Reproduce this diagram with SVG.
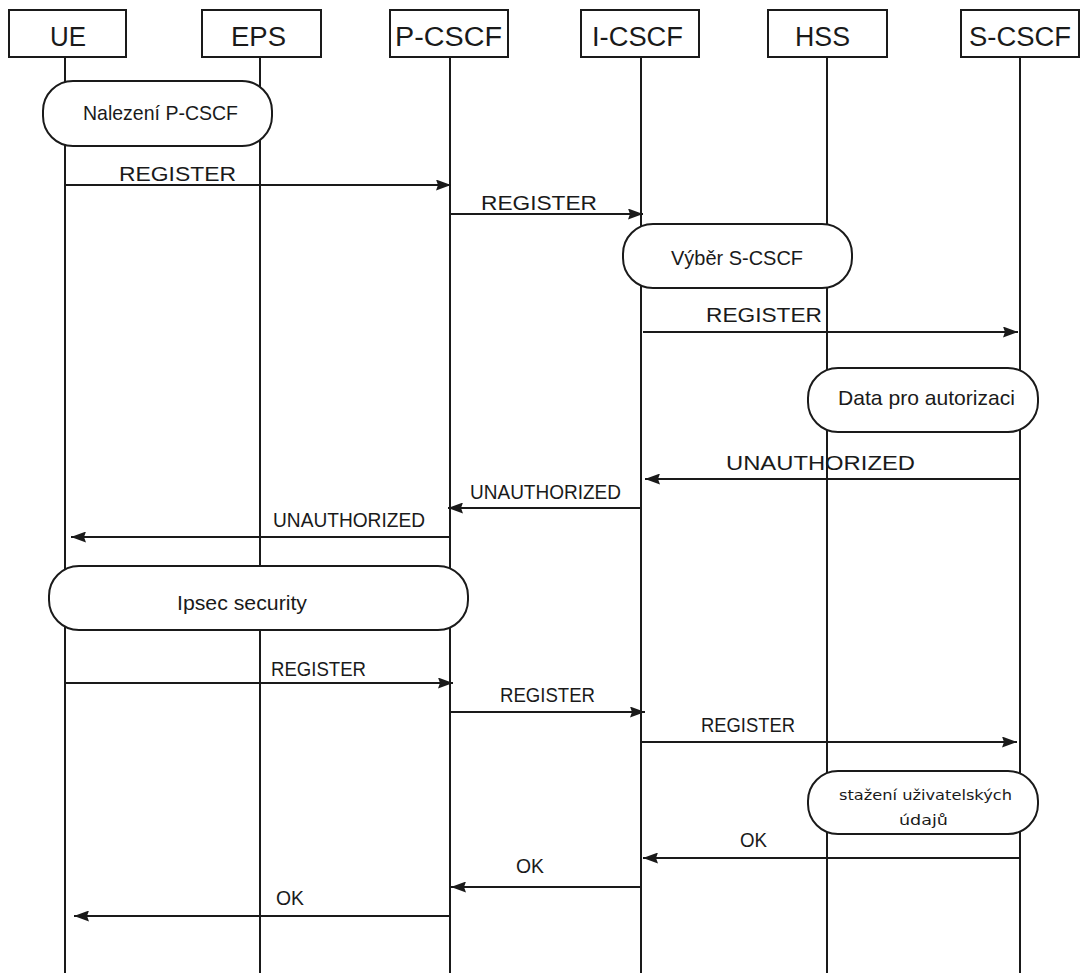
<svg xmlns="http://www.w3.org/2000/svg" width="1081" height="973" viewBox="0 0 1081 973">
  <style>
    .bg { fill: #ffffff; }
    .hdr { fill: #ffffff; stroke: #1a1a1a; stroke-width: 2; }
    .life { stroke: #1a1a1a; stroke-width: 2; fill: none; }
    .act { fill: #ffffff; stroke: #1a1a1a; stroke-width: 2; }
    .msg { stroke: #1a1a1a; stroke-width: 2; fill: none; marker-end: url(#head); }
    text { font-family: "Liberation Sans", Arial, sans-serif; fill: #1a1a1a; }
    .h { font-size: 27px; }
    .l { font-size: 21px; }
    .s { font-family: "DejaVu Sans", Verdana, sans-serif; font-size: 14px; }
  </style>
  <defs>
    <marker id="head" markerWidth="15" markerHeight="11" refX="15" refY="5.5" orient="auto" markerUnits="userSpaceOnUse">
      <path d="M0,0 L15,5.5 L0,11 L2,5.5 z" fill="#1a1a1a"/>
    </marker>
  </defs>

  <rect class="bg" x="0" y="0" width="1081" height="973"/>

  <!-- lifelines: header box, name and vertical line -->
  <g id="ue">
    <line class="life" x1="65" y1="57" x2="65" y2="973"/>
    <rect class="hdr" x="9" y="10" width="117" height="47"/>
    <text class="h" x="50" y="46" textLength="36" lengthAdjust="spacingAndGlyphs">UE</text>
  </g>
  <g id="eps">
    <line class="life" x1="260" y1="57" x2="260" y2="973"/>
    <rect class="hdr" x="202" y="10" width="119" height="47"/>
    <text class="h" x="231" y="46" textLength="55" lengthAdjust="spacingAndGlyphs">EPS</text>
  </g>
  <g id="p-cscf">
    <line class="life" x1="450" y1="57" x2="450" y2="973"/>
    <rect class="hdr" x="390" y="10" width="118" height="47"/>
    <text class="h" x="395" y="46" textLength="107" lengthAdjust="spacingAndGlyphs">P-CSCF</text>
  </g>
  <g id="i-cscf">
    <line class="life" x1="641" y1="57" x2="641" y2="973"/>
    <rect class="hdr" x="581" y="10" width="118" height="47"/>
    <text class="h" x="592" y="46" textLength="91" lengthAdjust="spacingAndGlyphs">I-CSCF</text>
  </g>
  <g id="hss">
    <line class="life" x1="827" y1="57" x2="827" y2="973"/>
    <rect class="hdr" x="768" y="10" width="119" height="47"/>
    <text class="h" x="795" y="46" textLength="55" lengthAdjust="spacingAndGlyphs">HSS</text>
  </g>
  <g id="s-cscf">
    <line class="life" x1="1020" y1="57" x2="1020" y2="973"/>
    <rect class="hdr" x="961" y="10" width="118" height="47"/>
    <text class="h" x="969" y="46" textLength="102" lengthAdjust="spacingAndGlyphs">S-CSCF</text>
  </g>

  <!-- action boxes spanning lifelines -->
  <g id="nalezeni">
    <rect class="act" x="43" y="81" width="229" height="65" rx="30" ry="30"/>
    <text class="l" x="83" y="120" font-size="20" textLength="155" lengthAdjust="spacingAndGlyphs">Nalezení P-CSCF</text>
  </g>
  <g id="vyber">
    <rect class="act" x="623" y="224" width="229" height="64" rx="30" ry="30"/>
    <text class="l" x="671" y="265" textLength="132" lengthAdjust="spacingAndGlyphs">Výběr S-CSCF</text>
  </g>
  <g id="data">
    <rect class="act" x="808" y="368" width="230" height="64" rx="30" ry="30"/>
    <text class="l" x="838" y="405" textLength="177" lengthAdjust="spacingAndGlyphs">Data pro autorizaci</text>
  </g>
  <g id="ipsec">
    <rect class="act" x="49" y="566" width="419" height="64" rx="30" ry="30"/>
    <text class="l" x="177" y="610" textLength="130" lengthAdjust="spacingAndGlyphs">Ipsec security</text>
  </g>
  <g id="stazeni">
    <rect class="act" x="808" y="771" width="230" height="63" rx="30" ry="30"/>
    <text class="s" x="839" y="800" textLength="173" lengthAdjust="spacingAndGlyphs">stažení uživatelských</text>
    <text class="s" x="899" y="825" textLength="49" lengthAdjust="spacingAndGlyphs">údajů</text>
  </g>

  <!-- messages -->
  <g id="connectors">
    <line class="msg" x1="65" y1="185" x2="451" y2="185"/>
    <text class="l" x="119" y="181" font-size="22" textLength="117" lengthAdjust="spacingAndGlyphs">REGISTER</text>

    <line class="msg" x1="450" y1="214" x2="643" y2="214"/>
    <text class="l" x="481" y="210" font-size="22" textLength="116" lengthAdjust="spacingAndGlyphs">REGISTER</text>

    <line class="msg" x1="643" y1="332" x2="1018" y2="332"/>
    <text class="l" x="706" y="322" font-size="22" textLength="116" lengthAdjust="spacingAndGlyphs">REGISTER</text>

    <line class="msg" x1="1020" y1="479" x2="645" y2="479"/>
    <text class="l" x="726" y="470" font-size="25" textLength="189" lengthAdjust="spacingAndGlyphs">UNAUTHORIZED</text>

    <line class="msg" x1="641" y1="508" x2="448" y2="508"/>
    <text class="l" x="470" y="499" font-size="22" textLength="151" lengthAdjust="spacingAndGlyphs">UNAUTHORIZED</text>

    <line class="msg" x1="450" y1="537" x2="71" y2="537"/>
    <text class="l" x="273" y="527" font-size="22" textLength="152" lengthAdjust="spacingAndGlyphs">UNAUTHORIZED</text>

    <line class="msg" x1="65" y1="683" x2="453" y2="683"/>
    <text class="l" x="271" y="676" font-size="19" textLength="95" lengthAdjust="spacingAndGlyphs">REGISTER</text>

    <line class="msg" x1="450" y1="712" x2="645" y2="712"/>
    <text class="l" x="500" y="702" font-size="19" textLength="95" lengthAdjust="spacingAndGlyphs">REGISTER</text>

    <line class="msg" x1="641" y1="742" x2="1017" y2="742"/>
    <text class="l" x="701" y="732" font-size="19" textLength="94" lengthAdjust="spacingAndGlyphs">REGISTER</text>

    <line class="msg" x1="1020" y1="858" x2="643" y2="858"/>
    <text class="l" x="740" y="847" font-size="19" textLength="27" lengthAdjust="spacingAndGlyphs">OK</text>

    <line class="msg" x1="641" y1="887" x2="451" y2="887"/>
    <text class="l" x="516" y="873" font-size="19" textLength="28" lengthAdjust="spacingAndGlyphs">OK</text>

    <line class="msg" x1="450" y1="916" x2="74" y2="916"/>
    <text class="l" x="276" y="905" font-size="19" textLength="28" lengthAdjust="spacingAndGlyphs">OK</text>
  </g>
</svg>
